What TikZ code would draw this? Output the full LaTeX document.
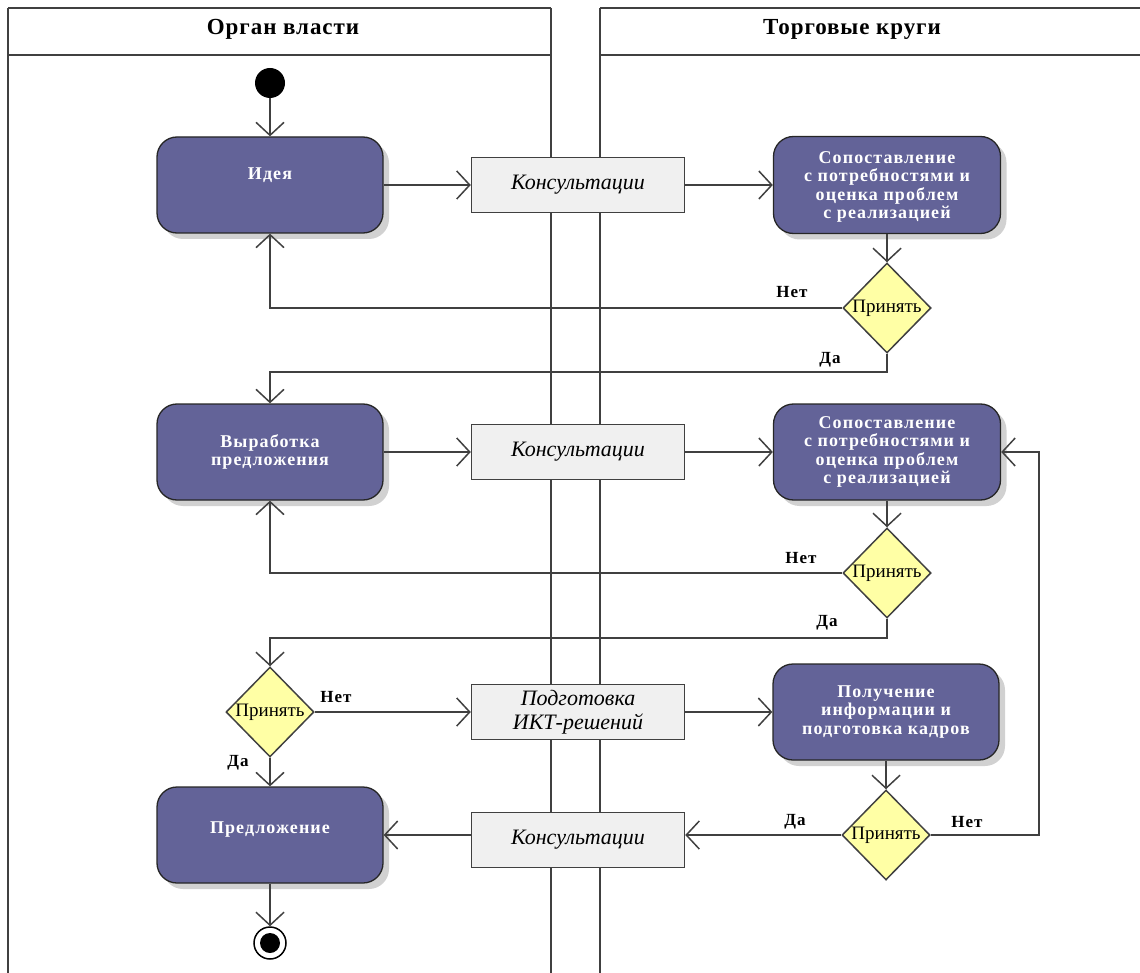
\documentclass[tikz,border=0pt]{standalone}
\usepackage{fontspec}
\setmainfont{Liberation Serif}
\newfontfamily\spacedfont[LetterSpace=6]{Liberation Serif}
\newfontfamily\headfont[LetterSpace=4]{Liberation Serif}
\usetikzlibrary{arrows.meta,shapes.geometric,shadows,calc}
\definecolor{boxfill}{RGB}{99,99,152}
\definecolor{linecol}{RGB}{64,64,64}
\definecolor{decfill}{RGB}{255,255,165}
\definecolor{consfill}{RGB}{240,240,240}
\begin{document}
\begin{tikzpicture}[x=1pt,y=-1pt,
  lane/.style={draw=linecol, line width=1.5pt},
  flow/.style={draw=linecol, line width=1.5pt, -{Straight Barb[length=13pt,width=28pt]}},
  activity/.style={draw=black!85, line width=1.3pt, fill=boxfill, rounded corners=20pt,
    minimum width=226pt, minimum height=96pt, text=white, align=center,
    font=\spacedfont\bfseries\fontsize{18}{18.5}\selectfont,
    drop shadow={shadow xshift=6pt, shadow yshift=-6pt, opacity=0.18, fill=black}},
  decision/.style={diamond, draw=linecol, line width=1.5pt, fill=decfill, inner sep=0pt,
    minimum width=88pt, minimum height=90pt, font=\fontsize{19}{21}\selectfont},
  cons/.style={draw=linecol, line width=1.5pt, fill=consfill, minimum width=213pt,
    minimum height=55pt, align=center, font=\itshape\fontsize{22}{24}\selectfont},
  lab/.style={font=\spacedfont\bfseries\fontsize{17}{18}\selectfont},
  headtext/.style={font=\headfont\bfseries\fontsize{23}{24}\selectfont},
  startnode/.style={circle, fill=black, minimum size=30pt, inner sep=0pt},
  endnode/.style={circle, draw=black, line width=1.5pt, fill=white, minimum size=32pt, inner sep=0pt,
    path picture={\fill[black] (path picture bounding box.center) circle (10pt);}}
]
\useasboundingbox (0,0) rectangle (1140,973);
% swimlanes
\draw[lane] (8,8) -- (551,8);
\draw[lane] (8,55) -- (551,55);
\draw[lane] (600,8) -- (1140,8);
\draw[lane] (600,55) -- (1140,55);
\draw[lane] (8,8) -- (8,973);
\draw[lane] (551,8) -- (551,973);
\draw[lane] (600,8) -- (600,973);
\node[headtext] (h1) at (283,29) {Орган власти};
\node[headtext] (h2) at (852,29) {Торговые круги};

% nodes
\node[startnode] (start) at (270,83) {};
\node[activity] (idea) at (270,185) {\raisebox{22pt}{Идея}};
\node[cons] (cons1) at (578,185) {Консультации};
\node[activity, minimum width=227pt, minimum height=97pt, text depth=-4pt] (sop1) at (887,185) {Сопоставление\\с потребностями и\\оценка проблем\\с реализацией};
\node[decision] (d1) at (887,308) {\makebox[40pt]{Принять}};

\node[activity] (vyr) at (270,452) {Выработка\\предложения};
\node[cons] (cons2) at (578,452) {Консультации};
\node[activity, minimum width=227pt] (sop2) at (887,452) {Сопоставление\\с потребностями и\\оценка проблем\\с реализацией};
\node[decision] (d2) at (887,573) {\makebox[40pt]{Принять}};

\node[decision] (d3) at (270,712) {\makebox[40pt]{Принять}};
\node[cons] (podg) at (578,712) {Подготовка\\ИКТ-решений};
\node[activity] (pol) at (886,712) {Получение\\информации и\\подготовка кадров};
\node[decision] (d4) at (886,835) {\makebox[40pt]{Принять}};

\node[activity] (pred) at (270,835) {\raisebox{15pt}{Предложение}};
\node[cons] (cons3) at (578,840) {Консультации};
\node[endnode] (end) at (270,943) {};

% connectors
\draw[flow] (start) -- (idea);
\draw[flow] (idea) -- (cons1);
\draw[flow] (cons1) -- (sop1);
\draw[flow] (sop1) -- (d1);
\draw[flow] (d1.west) -| (idea.south);
\draw[flow] (d1.south) -- ++(0,18) -| (vyr.north);

\draw[flow] (vyr) -- (cons2);
\draw[flow] (cons2) -- (sop2);
\draw[flow] (sop2) -- (d2);
\draw[flow] (d2.west) -| (vyr.south);
\draw[flow] (d2.south) -- ++(0,19) -| (d3.north);

\draw[flow] (d3) -- (podg);
\draw[flow] (podg) -- (pol);
\draw[flow] (pol) -- (d4);
\draw[flow] (d4.west) -- (d4.west -| cons3.east);
\draw[flow] (cons3.west |- pred.east) -- (pred.east);
\draw[flow] (d4.east) -- ++(108,0) |- (sop2.east);
\draw[flow] (d3) -- (pred);
\draw[flow] (pred) -- (end);

% labels
\node[lab] (l1n) at (792,292) {Нет};
\node[lab] (l1d) at (830,360) {Да};
\node[lab] (l2n) at (801,558) {Нет};
\node[lab] (l2d) at (827,623) {Да};
\node[lab] (l3n) at (336,697) {Нет};
\node[lab] (l3d) at (238,763) {Да};
\node[lab] (l4d) at (795,822) {Да};
\node[lab] (l4n) at (967,822) {Нет};
\end{tikzpicture}
\end{document}
